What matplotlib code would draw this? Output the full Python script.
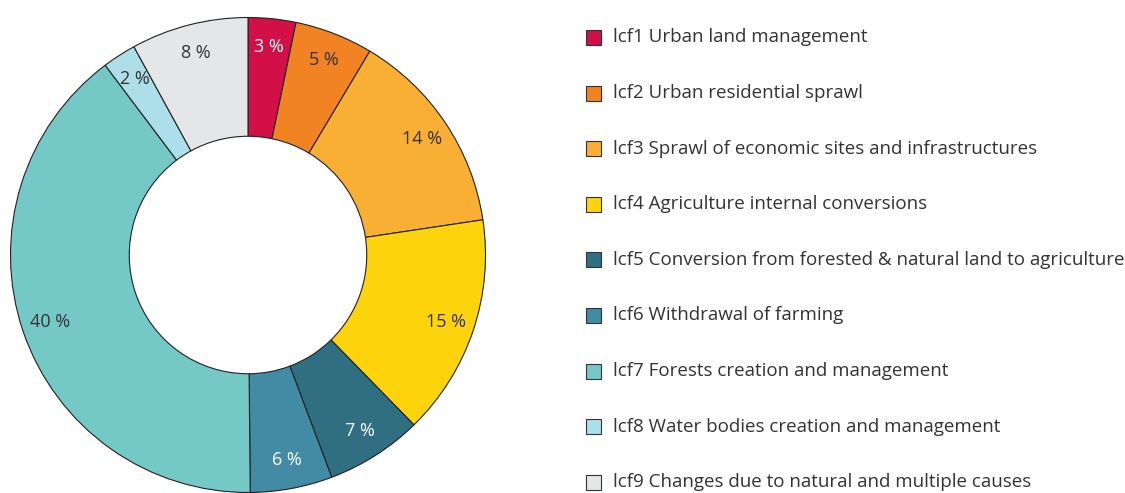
import matplotlib
matplotlib.use("Agg")
import matplotlib.pyplot as plt
from matplotlib.patches import Rectangle

plt.rcParams['font.family'] = ['Open Sans', 'DejaVu Sans']

# data (share of land cover flows, %)
codes = ["lcf1", "lcf2", "lcf3", "lcf4", "lcf5", "lcf6", "lcf7", "lcf8", "lcf9"]
names = ["Urban land management",
         "Urban residential sprawl",
         "Sprawl of economic sites and infrastructures",
         "Agriculture internal conversions",
         "Conversion from forested & natural land to agriculture",
         "Withdrawal of farming",
         "Forests creation and management",
         "Water bodies creation and management",
         "Changes due to natural and multiple causes"]
shares = [3.25, 5.35, 14.1, 15.1, 6.6, 5.6, 40.0, 2.3, 8.0]
colors = ["#d20f46", "#f28322", "#f9ae34", "#fdd30b", "#306e82",
          "#428ba4", "#74c9c6", "#acdfe9", "#e5e6e8"]
label_colors = ["white", "#333333", "#333333", "#333333", "white",
                "white", "#333333", "#333333", "#333333"]

W, H = 1125, 493
fig = plt.figure(figsize=(W / 100, H / 100), dpi=100)

# donut
cx, cy, r = 248, 238, 237.5
ax = fig.add_axes([(cx - r) / W, (cy - r) / H, 2 * r / W, 2 * r / H])
wedges, texts = ax.pie(shares, colors=colors, startangle=90, counterclock=False,
                       radius=1.0, labels=[f"{v:.0f} %" for v in shares],
                       labeldistance=0.88,
                       wedgeprops=dict(width=0.5, edgecolor="#222222", linewidth=0.8),
                       textprops=dict(fontsize=13))
for t, c in zip(texts, label_colors):
    t.set_color(c)
    t.set_ha("center")
    t.set_va("center")
ax.set_xlim(-1, 1)
ax.set_ylim(-1, 1)
ax.set_aspect("equal")
ax.axis("off")

# legend, drawn row by row
y0, dy = 37.5, 55.6
for i, (code, name, col) in enumerate(zip(codes, names, colors)):
    y = y0 + i * dy
    fig.patches.append(Rectangle(((586) / W, 1 - (y + 7.5) / H), 15 / W, 15 / H,
                                 transform=fig.transFigure, facecolor=col,
                                 edgecolor="#333333", linewidth=0.8))
    fig.text(613 / W, 1 - y / H, f"{code} {name}", fontsize=13.5,
             color="#333333", va="center", ha="left")

fig.savefig("out.png", dpi=100)
